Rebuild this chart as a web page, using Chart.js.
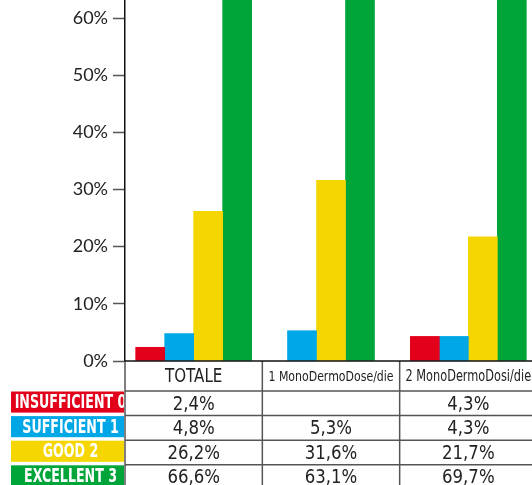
<!DOCTYPE html>
<html>
<head>
<meta charset="utf-8">
<script src="https://cdn.jsdelivr.net/npm/chart.js@4/dist/chart.umd.min.js"></script>
<style>
  html, body { margin: 0; padding: 0; background: #fff; overflow: hidden; }
  #wrap { width: 532px; height: 485px; overflow: hidden; }
</style>
</head>
<body>
<div id="wrap"><canvas id="c" width="537" height="485"></canvas></div>
<script>
// values
const categories   = ['TOTALE', '1 MonoDermoDose/die', '2 MonoDermoDosi/die'];
const seriesNames  = ['INSUFFICIENT 0', 'SUFFICIENT 1', 'GOOD 2', 'EXCELLENT 3'];
const insufficient = [2.4, null, 4.3];
const sufficient   = [4.8, 5.3, 4.3];
const good         = [26.2, 31.6, 21.7];
const excellent    = [66.6, 63.1, 69.7];
const yTicks       = [0, 10, 20, 30, 40, 50, 60];

const COLORS = ['#e2001a', '#00a7e7', '#f5d600', '#00a53a'];
const NARROW = '"Liberation Sans Narrow", "DejaVu Sans Condensed", sans-serif';
const series = [insufficient, sufficient, good, excellent];

const fmt = v => v == null ? '' : v.toFixed(1).replace('.', ',') + '%';

// draw text squeezed horizontally (the original face is a condensed one)
function squeezed(ctx, text, x, y, sx) {
  ctx.save();
  ctx.translate(x, y);
  ctx.scale(sx, 1);
  ctx.fillText(text, 0, 0);
  ctx.restore();
}

// data table under the plot, aligned to the category scale
const dataTable = {
  id: 'dataTable',
  afterDraw(chart) {
    const ctx = chart.ctx, x = chart.scales.x, area = chart.chartArea;
    const n = categories.length;
    const colW = (x.right - x.left) / n;
    const top = area.bottom, headH = 30, rowH = 24.6;
    const bottom = chart.height;

    ctx.save();
    ctx.fillStyle = '#222';
    ctx.textAlign = 'center';
    ctx.textBaseline = 'middle';
    // header text, font shrunk until it fits its column
    categories.forEach((cat, i) => {
      let size = 20;
      ctx.font = size + 'px ' + NARROW;
      while (ctx.measureText(cat).width * 0.84 > colW - 10 && size > 8) {
        size -= 0.5;
        ctx.font = size + 'px ' + NARROW;
      }
      squeezed(ctx, cat, x.getPixelForValue(i), top + headH / 2 + 1, 0.84);
    });

    // values
    ctx.font = '20px ' + NARROW;
    series.forEach((vals, r) => {
      const ry = top + headH + r * rowH;
      vals.forEach((v, i) => {
        squeezed(ctx, fmt(v), x.getPixelForValue(i), ry + rowH / 2 + 1, 0.92);
      });
    });

    // grid lines
    ctx.strokeStyle = '#555';
    ctx.lineWidth = 1.5;
    ctx.beginPath();
    for (let r = 0; r < series.length; r++) {
      const ry = top + headH + r * rowH;
      ctx.moveTo(x.left, ry); ctx.lineTo(x.right, ry);
    }
    for (let i = 0; i <= n; i++) {
      const vx = x.left + i * colW;
      ctx.moveTo(vx, top); ctx.lineTo(vx, bottom);
    }
    ctx.stroke();
    ctx.strokeStyle = '#111';
    ctx.beginPath();
    ctx.moveTo(x.left, top); ctx.lineTo(x.right, top);
    ctx.stroke();

    // legend keys at the left of each row
    const kx = 11, kw = x.left - 1 - kx;
    ctx.font = 'bold 19px ' + NARROW;
    seriesNames.forEach((name, r) => {
      const ry = top + headH + r * rowH;
      ctx.fillStyle = COLORS[r];
      ctx.fillRect(kx, ry + 0.5, kw, rowH - 3.5);
      ctx.save();
      ctx.beginPath();
      ctx.rect(kx, ry, kw, rowH);
      ctx.clip();
      ctx.fillStyle = '#fff';
      squeezed(ctx, name, kx + kw / 2 + 3, ry + (rowH - 3) / 2 + 1.5, 0.74);
      ctx.restore();
    });
    ctx.restore();
  }
};

new Chart(document.getElementById('c'), {
  type: 'bar',
  data: {
    labels: categories,
    datasets: series.map((vals, i) => ({
      label: seriesNames[i],
      data: vals,
      backgroundColor: COLORS[i],
      borderWidth: 0
    }))
  },
  options: {
    responsive: false,
    animation: false,
    skipNull: true,
    barThickness: 29,
    layout: { padding: { top: 0, right: 0, bottom: 124, left: 0 } },
    plugins: { legend: { display: false }, tooltip: { enabled: false } },
    scales: {
      x: { display: false },
      y: {
        min: 0, max: 63.15,
        afterBuildTicks: axis => { axis.ticks = yTicks.map(v => ({ value: v })); },
        afterFit: axis => { axis.width = 125; axis.paddingTop = 0; axis.paddingBottom = 0; },
        grid: { drawOnChartArea: false, tickLength: 12, tickColor: '#555', tickWidth: 1.5 },
        border: { color: '#111', width: 1.5 },
        ticks: { padding: 5, color: '#222', font: { family: 'Lato', size: 18 }, callback: v => v + '%' }
      }
    }
  },
  plugins: [dataTable]
});
</script>
</body>
</html>
